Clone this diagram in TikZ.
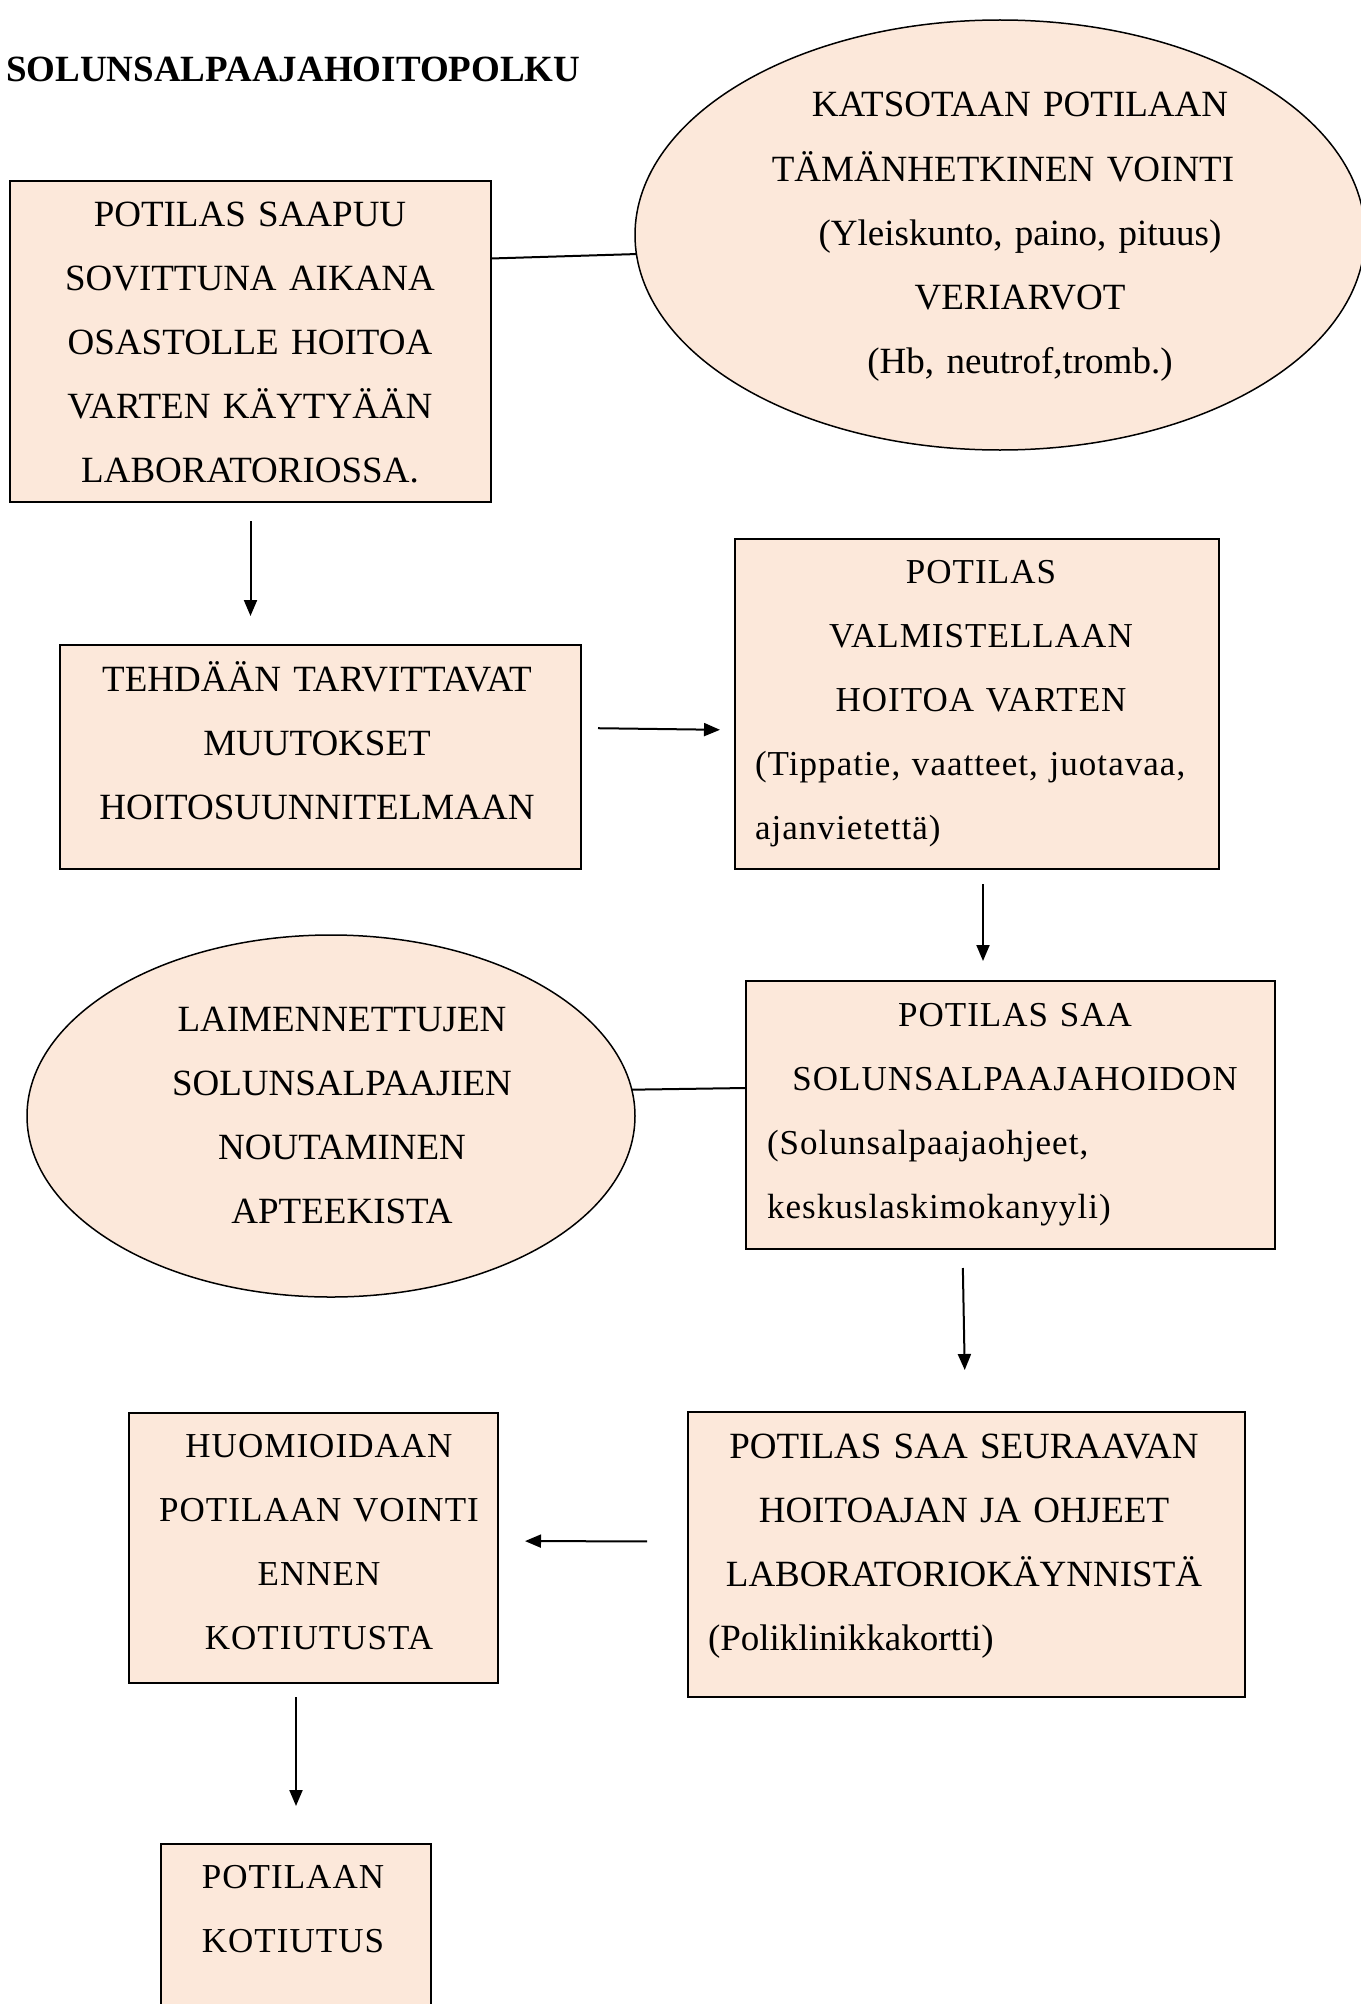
\documentclass[tikz,border=0pt]{standalone}
\usepackage{fontspec}
\setmainfont{Liberation Serif}
\usetikzlibrary{arrows.meta,shapes.geometric}
\definecolor{peach}{HTML}{FCE8DA}
\newcommand\lline[1]{\makebox[\linewidth][l]{#1}}

\begin{document}
\begin{tikzpicture}[x=1pt, y=-1pt,
  box/.style = {draw, line width=1.8pt, fill=peach, inner sep=0pt, outer sep=0pt, anchor=north west},
  oval/.style = {ellipse, draw, line width=1.5pt, fill=peach, inner sep=0pt, outer sep=0pt},
  txt/.style = {anchor=base, align=center, inner sep=0pt, font=\fontsize{37}{64.2}\selectfont},
  txtb/.style = {txt, font=\fontsize{35}{64.2}\selectfont\addfontfeature{LetterSpace=3}},
  link/.style = {line width=2pt},
  arr/.style = {link, -{Triangle[length=16pt,width=13pt]}}]
  \useasboundingbox (0,0) rectangle (1360,2004);

  \node[anchor=base west, inner sep=0pt, font=\fontsize{37}{44}\selectfont\bfseries] (otsikko) at (6,82)
    {SOLUNSALPAAJAHOITOPOLKU};

  % laatikot ja soikiot
  \node[box, minimum width=481pt, minimum height=321pt] (saapuu) at (10,181) {};
  \node[oval, minimum width=730pt, minimum height=430pt] (vointi) at (1000,235) {};
  \node[box, minimum width=521pt, minimum height=224pt] (muutokset) at (60,645) {};
  \node[box, minimum width=484pt, minimum height=330pt] (valmistelu) at (735,539) {};
  \node[box, minimum width=529pt, minimum height=268pt] (hoito) at (746,981) {};
  \node[oval, minimum width=608pt, minimum height=362pt] (noutaminen) at (331,1116) {};
  \node[box, minimum width=557pt, minimum height=285pt] (seuraava) at (688,1412) {};
  \node[box, minimum width=369pt, minimum height=270pt] (huomioidaan) at (129,1413) {};
  \node[box, minimum width=270pt, minimum height=190pt] (kotiutus) at (161,1844) {};

  % tekstit
  \node[txt, text width=460pt] (saapuu-t) at (250,226)
    {POTILAS SAAPUU\\ SOVITTUNA AIKANA\\ OSASTOLLE HOITOA\\ VARTEN KÄYTYÄÄN\\ LABORATORIOSSA.};
  \node[txt, text width=540pt] (vointi-t) at (1020,117)
    {KATSOTAAN POTILAAN\\ \hspace*{-34pt}TÄMÄNHETKINEN VOINTI\\ (Yleiskunto, paino, pituus)\\
     VERIARVOT\\ (Hb, neutrof,tromb.)};
  \node[txt, text width=500pt] (muutokset-t) at (317,691)
    {TEHDÄÄN TARVITTAVAT\\ MUUTOKSET\\ HOITOSUUNNITELMAAN};
  \node[txtb, text width=452pt] (valmistelu-t) at (981,583)
    {POTILAS\\ VALMISTELLAAN\\ HOITOA VARTEN\\ \lline{(Tippatie, vaatteet, juotavaa,}\\ \lline{ajanvietettä)}};
  \node[txtb, text width=496pt] (hoito-t) at (1015,1026)
    {POTILAS SAA\\ SOLUNSALPAAJAHOIDON\\ \lline{(Solunsalpaajaohjeet,}\\ \lline{keskuslaskimokanyyli)}};
  \node[txt, text width=400pt] (noutaminen-t) at (342,1031)
    {LAIMENNETTUJEN\\ SOLUNSALPAAJIEN\\ NOUTAMINEN\\ APTEEKISTA};
  \node[txt, text width=512pt] (seuraava-t) at (964,1458)
    {POTILAS SAA SEURAAVAN\\ HOITOAJAN JA OHJEET\\ LABORATORIOKÄYNNISTÄ\\ \lline{(Poliklinikkakortti)}};
  \node[txtb, text width=340pt] (huomioidaan-t) at (319,1457)
    {HUOMIOIDAAN\\ POTILAAN VOINTI\\ ENNEN\\ KOTIUTUSTA};
  \node[txtb, text width=250pt] (kotiutus-t) at (293,1888)
    {POTILAAN\\ KOTIUTUS};

  % yhteydet
  \draw[link] ([yshift=83pt]saapuu.east) -- (vointi.183);
  \draw[arr, shorten <=19pt, shorten >=29pt] (saapuu.south) -- (saapuu.south |- muutokset.north);
  \draw[arr, shorten <=17pt, shorten >=15pt] ([yshift=29pt]muutokset.east) -- ([yshift=-26pt]valmistelu.west);
  \draw[arr, shorten <=15pt, shorten >=20pt] ([xshift=6pt]valmistelu.south) -- ([xshift=6pt]valmistelu.south |- hoito.north);
  \draw[link] (noutaminen.5) -- ([yshift=27pt]hoito.west);
  \draw[arr, shorten <=19pt, shorten >=42pt] ([xshift=-48pt]hoito.south) -- ([xshift=-1pt]seuraava.north);
  \draw[arr, shorten <=41pt, shorten >=27pt] ([yshift=13pt]seuraava.west) -- ([yshift=7pt]huomioidaan.east);
  \draw[arr, shorten <=14pt, shorten >=38pt] (kotiutus.north |- huomioidaan.south) -- (kotiutus.north);
\end{tikzpicture}
\end{document}
